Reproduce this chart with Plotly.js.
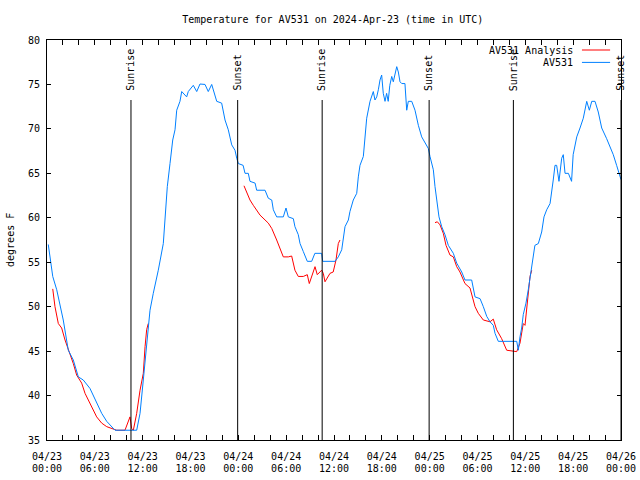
<!DOCTYPE html>
<html>
<head>
<meta charset="utf-8">
<script src="https://cdn.plot.ly/plotly-3.0.1.min.js"></script>
<style>html,body{margin:0;padding:0;background:#fff;}#chart{width:640px;height:480px;}</style>
</head>
<body>
<div id="chart"></div>
<script>
// Hours since 2024-04-23 00:00 UTC
const stationHours1 = [0.16,0.72,1.22,1.63,2.04,2.67,3.30,3.93,4.55,5.39,6.23,6.86,7.49,8.53,11.25,11.67,12.08,12.51,12.92,13.33,13.96,14.59,14.80,15.09,15.43,15.77,16.06,16.27,16.68,16.90,17.52,17.72,18.35,18.78,19.19,19.82,20.23,20.66,21.29,21.91,22.33,22.74,23.17,23.58,23.80,24.00];
const stationTemps1 = [57.0,53.4,51.9,50.0,48.5,45.1,44.0,42.1,41.75,40.8,39.1,38.0,37.1,36.1,36.1,38,41.75,45.5,49.6,51.5,54.1,57.1,60.1,63.5,66.1,68.75,69.9,72.1,73.1,74.2,73.6,74.2,74.9,74.2,75.05,75,74.2,75,73.1,72.9,71,69.9,68.2,67.6,66.7,66.1];
const stationHours2 = [24.6,24.84,25.25,25.46,26.1,26.3,27.35,27.76,28.19,28.39,28.81,29.64,29.98,30.27,30.9,31.1,31.52,31.74,32.15,32.65,33.2,33.6,34.45,34.58,36.13,36.54,36.97,37.38,37.8,38.0,38.42,38.85,39.05,39.26,39.68,39.89,40.1,40.52,40.73,40.93,41.14,41.36,41.56,41.77,41.98,42.18,42.4,42.6,42.8,43.0,43.24,43.44,43.87,44.07,44.28,44.5,44.9,45.12,45.32,45.75,46.16,46.58,47.0,47.4,47.83,48.04];
const stationTemps2 = [65.9,65.0,65,64.1,63.9,63.1,63.1,62.2,62.0,60.9,60.1,60.1,61.1,60.1,59.9,59.0,58.1,57.1,56.2,55.1,55.1,56.0,56,55.1,55.1,55.6,56.4,59,59.75,60.7,62.0,62.75,64.6,65.9,66.9,68.75,71.2,73.1,73.8,74.2,73.25,73.6,74.4,75.5,76.06,74.0,73.1,74.0,73.1,74.9,75.9,75.3,77.0,76.4,75.3,75.1,75.1,72.1,73.1,73.1,72.1,70.4,69.1,68.4,67.8,66.9];
const stationHours3 = [48.46,48.67,48.96,49.17,49.51,49.92,50.34,50.97,51.39,52.02,52.43,53.27,53.69,54.32,54.73,55.16,55.57,55.98,56.2,56.61,58.92,59.12,59.33,59.54,59.74,60.08,60.37,60.67,61.0,61.2,61.63,62.05,62.34,62.68,63.1,63.3,63.5,63.72,63.93,64.22,64.56,64.76,64.98,65.4,65.8,66.0,66.45,66.86,67.27,67.7,68.03,68.33,68.74,69.15,69.58,70.2,70.62,71.03,71.45,71.87,72.0];
const stationTemps3 = [65.4,63.5,61.6,60.1,59.0,58.1,56.9,56.0,54.9,53.9,53.0,53.0,51.1,50.9,50,48.9,48.3,47.9,47.0,46.1,46.1,45.1,46.6,47.6,49.1,50.4,51.9,53.9,55.6,56.9,57.1,58.4,60.1,60.9,61.6,62.75,64.25,65.9,65.9,64.1,66.7,67.1,65,65,64.1,67.1,69.1,70.1,71.2,73.1,72.1,73.1,73.1,71.9,70.1,68.9,68.0,67.1,65.9,64.6,64.3];

const analysisHours1 = [0.72,1.0,1.42,1.84,2.26,2.89,3.30,3.72,4.35,4.77,5.60,6.23,6.86,7.49,8.74,9.78,10.41,10.62,10.83,11.25,11.67,12.08,12.3,12.5,12.7];
const analysisTemps1 = [52.0,50.0,48.1,47.6,46.25,44.75,43.6,42.3,41.4,40.25,38.75,37.6,36.9,36.5,36.1,36.1,37.6,36.3,36.1,38,40.6,42.5,45.5,47.4,48.1];
const analysisHours2 = [24.71,25.05,25.46,25.88,26.72,27.76,28.19,28.81,29.23,29.64,30.27,30.69,31.1,31.52,32.15,32.65,32.9,33.33,33.62,33.9,34.45,34.66,34.87,35.5,35.9,36.25,36.54,36.75];
const analysisTemps2 = [63.6,62.9,62.0,61.4,60.3,59.4,58.8,57.5,56.6,55.6,55.6,55.7,54.1,53.4,53.4,53.6,52.6,53.75,54.5,53.6,54.1,53.75,52.8,53.75,53.9,55.25,57.1,57.5];
const analysisHours3 = [48.67,48.96,49.3,49.71,50.05,50.55,50.97,51.39,51.8,52.43,53.06,53.69,54.1,54.73,55.57,55.98,56.4,57.03,57.66,58.92,59.33,59.74,59.96,60.17,60.37,60.59,60.8];
const analysisTemps3 = [59.45,59.55,59.2,58.25,56.9,55.8,55.6,54.5,53.9,52.6,52.1,50,49.25,48.5,48.3,48.6,47.4,46.4,45.1,44.94,45.9,48.1,47.9,50,51.5,53.4,54.1];

const sunTimes = ['2024-04-23 10:32','2024-04-23 23:55','2024-04-24 10:31','2024-04-24 23:56','2024-04-25 10:30','2024-04-26 00:00'];
const sunLabels = ['Sunrise','Sunset','Sunrise','Sunset','Sunrise','Sunset'];

const tickVals = ['2024-04-23 00:00','2024-04-23 06:00','2024-04-23 12:00','2024-04-23 18:00','2024-04-24 00:00','2024-04-24 06:00','2024-04-24 12:00','2024-04-24 18:00','2024-04-25 00:00','2024-04-25 06:00','2024-04-25 12:00','2024-04-25 18:00','2024-04-26 00:00'];
const tickDates = ['04/23','04/23','04/23','04/23','04/24','04/24','04/24','04/24','04/25','04/25','04/25','04/25','04/26'];
const tickTimes = ['00:00','06:00','12:00','18:00','00:00','06:00','12:00','18:00','00:00','06:00','12:00','18:00','00:00'];

const base = Date.UTC(2024, 3, 23);
function toDate(h) {
  if (h === null) return null;
  return new Date(base + h * 3600000).toISOString().slice(0, 19).replace('T', ' ');
}

const stationX = stationHours1.concat(stationHours2, stationHours3).map(toDate);
const stationY = stationTemps1.concat(stationTemps2, stationTemps3);
const analysisX = analysisHours1.concat([null], analysisHours2, [null], analysisHours3).map(toDate);
const analysisY = analysisTemps1.concat([null], analysisTemps2, [null], analysisTemps3);

const FONT = 'DejaVu Sans Mono, Liberation Mono, monospace';
const RANGE = ['2024-04-23 00:00', '2024-04-26 00:00'];

const traces = [
  {x: analysisX, y: analysisY, type: 'scatter', mode: 'lines', name: 'AV531 Analysis',
   line: {color: '#ff0000', width: 1}, connectgaps: false},
  {x: stationX, y: stationY, type: 'scatter', mode: 'lines', name: 'AV531',
   line: {color: '#0080ff', width: 1}}
];

const shapes = [];
const annotations = [];
sunTimes.forEach((t, i) => {
  shapes.push({type: 'line', xref: 'x', yref: 'paper', x0: t, x1: t, y0: 0, y1: 0.85,
    line: {color: '#000', width: 1}});
  annotations.push({xref: 'x', yref: 'paper', x: t, y: 0.868, text: sunLabels[i],
    textangle: -90, showarrow: false, xanchor: 'center', yanchor: 'bottom',
    font: {family: FONT, size: 10, color: '#000'}});
});

// legend (text right-aligned, sample line on the right)
const legendItems = [['AV531 Analysis', '#ff0000', 0.975], ['AV531', '#0080ff', 0.944]];
legendItems.forEach(([txt, col, yy]) => {
  annotations.push({xref: 'paper', yref: 'paper', x: 0.92, y: yy, text: txt,
    showarrow: false, xanchor: 'right', yanchor: 'middle',
    font: {family: FONT, size: 10, color: '#000'}});
  shapes.push({type: 'line', xref: 'paper', yref: 'paper', x0: 0.932, x1: 0.981, y0: yy, y1: yy,
    line: {color: col, width: 1}});
});

annotations.push({xref: 'paper', yref: 'paper', x: -0.0645, y: 0.5, text: 'degrees F',
  textangle: -90, showarrow: false, xanchor: 'center', yanchor: 'middle',
  font: {family: FONT, size: 10, color: '#000'}});

const layout = {
  width: 640, height: 480,
  margin: {l: 47, r: 19, t: 40, b: 40},
  paper_bgcolor: '#fff', plot_bgcolor: '#fff',
  showlegend: false,
  font: {family: FONT, size: 10, color: '#000'},
  title: {text: 'Temperature for AV531 on 2024-Apr-23 (time in UTC)', x: 0.52, xanchor: 'center',
    y: 0.96, yref: 'container', yanchor: 'middle', font: {family: FONT, size: 10, color: '#000'}},
  xaxis: {
    type: 'date', range: RANGE,
    tickmode: 'array', tickvals: tickVals, ticktext: tickDates, ticklabelstandoff: 7,
    ticks: 'inside', ticklen: 5, tickcolor: '#000', tickwidth: 1,
    minor: {dtick: 7200000, ticks: 'inside', ticklen: 5, tickcolor: '#000', showgrid: false},
    showline: true, linecolor: '#000', linewidth: 1, mirror: 'ticks',
    showgrid: false, zeroline: false, fixedrange: true,
    tickfont: {family: FONT, size: 10, color: '#000'}
  },
  xaxis2: {
    type: 'date', range: RANGE, overlaying: 'x', side: 'bottom', anchor: 'y',
    tickmode: 'array', tickvals: tickVals, ticktext: tickTimes, ticklabelstandoff: 21,
    ticks: '', showline: false, showgrid: false, zeroline: false, fixedrange: true,
    tickfont: {family: FONT, size: 10, color: '#000'}
  },
  yaxis: {
    range: [35, 80], dtick: 5, tick0: 35, ticklabelstandoff: 4,
    ticks: 'inside', ticklen: 4, tickcolor: '#000', tickwidth: 1,
    showline: true, linecolor: '#000', linewidth: 1, mirror: 'ticks',
    showgrid: false, zeroline: false, fixedrange: true,
    tickfont: {family: FONT, size: 10, color: '#000'}
  },
  shapes: shapes,
  annotations: annotations
};

// invisible helper trace so the second x axis (time row of the tick labels) is drawn
traces.push({x: [RANGE[0]], y: [null], xaxis: 'x2', yaxis: 'y', type: 'scatter', mode: 'lines',
  hoverinfo: 'skip', showlegend: false});

Plotly.newPlot('chart', traces, layout, {staticPlot: true, displayModeBar: false});
</script>
</body>
</html>
